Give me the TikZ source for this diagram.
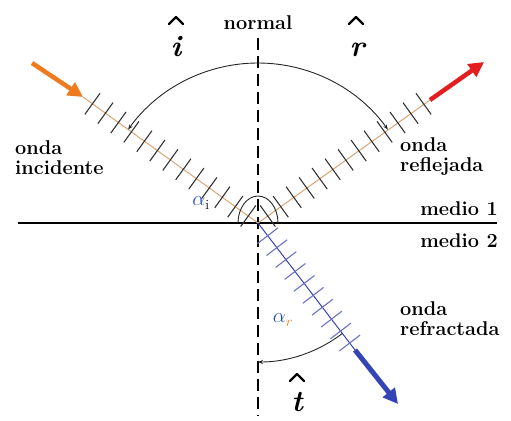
\documentclass[tikz,border=0pt]{standalone}
\usepackage{fontspec}
\usetikzlibrary{arrows.meta,calc}
\definecolor{rayor}{HTML}{D9A575}
\definecolor{incor}{HTML}{F07A1E}
\definecolor{refred}{HTML}{E41E1E}
\definecolor{trblue}{HTML}{3443B5}
\definecolor{tickblue}{HTML}{6A70C4}
\definecolor{alphablue}{HTML}{2A4FB0}
\definecolor{tickgray}{HTML}{333333}
\begin{document}
\begin{tikzpicture}[x=1bp,y=-1bp,
  lab/.style={font=\fontsize{20}{21}\selectfont\bfseries, inner sep=0pt, align=left},
  hatlab/.style={font=\fontsize{30}{30}\selectfont\bfseries\itshape, inner sep=0pt, anchor=base},
  hatstroke/.style={line width=2.2pt, line cap=round, line join=round},
  ray/.style={draw=rayor, line width=1pt},
  tickline/.style={draw=tickgray, line width=1.1pt},
  bluetick/.style={draw=tickblue, line width=1.1pt},
  anglearc/.style={draw=black!85, line width=0.9pt, -{Stealth[length=5pt,width=4pt]}},
  bigarrow/.style={line width=4.5pt, -{Triangle[length=15pt,width=15pt]}}
]
\useasboundingbox (0,0) rectangle (511,420);
\coordinate (O) at (258,223);
\coordinate (A) at (83,97);
\coordinate (A0) at (32,63);
\coordinate (B) at (430,100);
\coordinate (B1) at (484,62);
\coordinate (C) at (355,350);
\coordinate (C1) at (398,404);
\coordinate (Ntop) at (258,38);
\coordinate (Nbot) at (258,415);
\coordinate (Lft) at (18,223);
\coordinate (Rgt) at (497,223);
\coordinate (Hi) at (176,20);
\coordinate (Hr) at (356,20);
\coordinate (Ht) at (297,377);

% interface and normal
\draw[line width=1.8pt] (Lft) -- (Rgt);
\draw[line width=1.2pt, dash pattern=on 12pt off 6pt] (Ntop) -- (Nbot);

% rays
\draw[ray] (A) -- (O);
\draw[ray] (O) -- (B);
\draw[draw=trblue, line width=1pt] (O) -- (C);

% wave fronts
\foreach \d in {12,28,...,204} {
  \draw[tickline] ($(O)+(-144.25:\d)+(-54.25:13)$) -- ($(O)+(-144.25:\d)+(125.75:13)$);
  \draw[tickline] ($(O)+(-35.75:\d)+(54.25:13)$) -- ($(O)+(-35.75:\d)+(-125.75:13)$);
}
\foreach \d in {16,31,...,152} {
  \draw[bluetick] ($(O)+(52.6:\d)+(-37.4:13)$) -- ($(O)+(52.6:\d)+(142.6:13)$);
}

% big arrows
\draw[bigarrow, incor] (A0) -- (A);
\draw[bigarrow, refred] (B) -- (B1);
\draw[bigarrow, trblue, line width=5pt] (C) -- (C1);

% angle arcs
\draw[anglearc] ($(O)+(-90:160)$) arc[start angle=-90, end angle=-144.25, radius=160];
\draw[anglearc] ($(O)+(-90:160)$) arc[start angle=-90, end angle=-35.75, radius=160];
\draw[anglearc] ($(O)+(52.6:139)$) arc[start angle=52.6, end angle=90, radius=139];
\draw[black!85, line width=0.9pt] ($(O)+(-20,0)$) arc[start angle=180, end angle=360, x radius=20, y radius=27];

% labels
\node[lab, anchor=center] (nrm) at (258,23) {normal};
\node[lab, anchor=north west] (oi) at (15,140) {onda\\incidente};
\node[lab, anchor=north west] (orl) at (400,137) {onda\\reflejada};
\node[lab, anchor=north west] (orf) at (400,301) {onda\\refractada};
\node[lab, anchor=base east] (m1) at (498,215) {medio 1};
\node[lab, anchor=base east] (m2) at (498,247) {medio 2};

\node[hatlab] (li) at (176,56) {i};
\node[hatlab] (lr) at (357,56) {r};
\node[hatlab] (lt) at (297,411) {t};
\foreach \h in {Hi,Hr,Ht} {
  \draw[hatstroke] ($(\h)+(-7,4)$) -- ($(\h)+(0,-3)$) -- ($(\h)+(7,4)$);
}

\node[font=\fontsize{20}{20}\selectfont, inner sep=0pt] (ai) at (201,203) {$\textcolor{alphablue}{\alpha}_{\mathrm{i}}$};
\node[font=\fontsize{20}{20}\selectfont, inner sep=0pt] (ar) at (283,320) {$\textcolor{alphablue}{\alpha}_{\textcolor{incor}{r}}$};
\end{tikzpicture}
\end{document}
